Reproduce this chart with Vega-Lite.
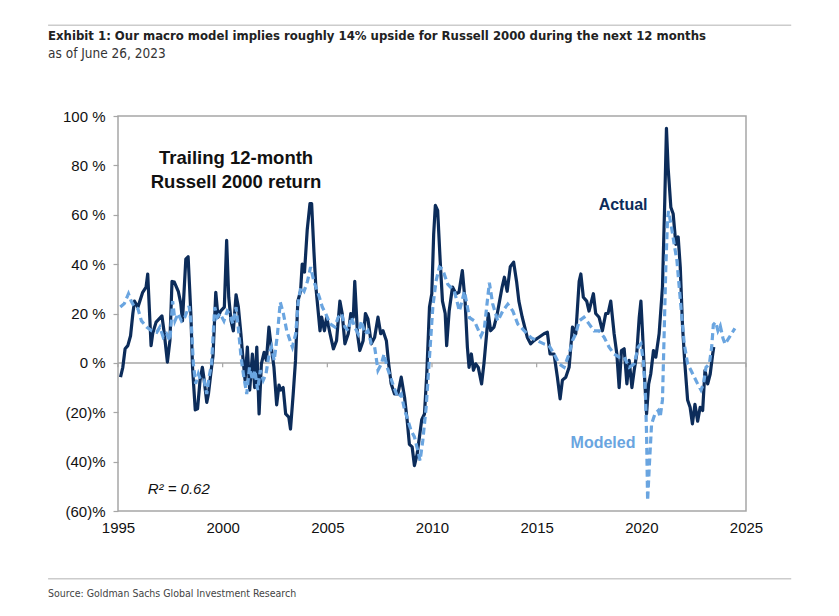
{
  "$schema": "https://vega.github.io/schema/vega-lite/v6.json",
  "width": 628,
  "height": 395,
  "padding": {"left": 47, "top": 24, "right": 10, "bottom": 5},
  "background": "white",
  "config": {
    "view": {"stroke": "#a6a6a6", "strokeWidth": 1.5},
    "font": "Liberation Sans"
  },
  "datasets": {
    "actual": [
      {"year": 1995.12, "value": -5.8}, {"year": 1995.23, "value": -1.8}, {"year": 1995.34, "value": 5.7}, {"year": 1995.47, "value": 7},
      {"year": 1995.6, "value": 11}, {"year": 1995.71, "value": 20}, {"year": 1995.79, "value": 25}, {"year": 1995.95, "value": 22.5},
      {"year": 1996.18, "value": 28.6}, {"year": 1996.34, "value": 30.7}, {"year": 1996.42, "value": 36}, {"year": 1996.58, "value": 7},
      {"year": 1996.66, "value": 12}, {"year": 1996.82, "value": 16.5}, {"year": 1997.1, "value": 19}, {"year": 1997.21, "value": 12},
      {"year": 1997.36, "value": 0.3}, {"year": 1997.48, "value": 9}, {"year": 1997.58, "value": 33}, {"year": 1997.69, "value": 32.7},
      {"year": 1997.88, "value": 29}, {"year": 1998.0, "value": 24}, {"year": 1998.08, "value": 17}, {"year": 1998.24, "value": 42},
      {"year": 1998.35, "value": 43}, {"year": 1998.48, "value": 20}, {"year": 1998.56, "value": -1.8}, {"year": 1998.69, "value": -19},
      {"year": 1998.8, "value": -18.6}, {"year": 1998.92, "value": -7}, {"year": 1999.03, "value": -1.8}, {"year": 1999.11, "value": -6.5},
      {"year": 1999.24, "value": -16}, {"year": 1999.32, "value": -12.6}, {"year": 1999.43, "value": -4.5}, {"year": 1999.54, "value": 3},
      {"year": 1999.67, "value": 28.6}, {"year": 1999.78, "value": 18.5}, {"year": 1999.9, "value": 21}, {"year": 2000.08, "value": 22.6},
      {"year": 2000.19, "value": 49.6}, {"year": 2000.29, "value": 26.6}, {"year": 2000.4, "value": 17}, {"year": 2000.51, "value": 13},
      {"year": 2000.64, "value": 27.6}, {"year": 2000.75, "value": 22.6}, {"year": 2000.87, "value": 11.8}, {"year": 2000.95, "value": 3.6},
      {"year": 2001.07, "value": -7}, {"year": 2001.18, "value": 6.4}, {"year": 2001.29, "value": -11}, {"year": 2001.42, "value": 3.6},
      {"year": 2001.53, "value": -10}, {"year": 2001.63, "value": 6.4}, {"year": 2001.74, "value": -20.7}, {"year": 2001.85, "value": -0.4},
      {"year": 2001.98, "value": 4.3}, {"year": 2002.09, "value": 1}, {"year": 2002.21, "value": 14.5}, {"year": 2002.32, "value": 6.4},
      {"year": 2002.45, "value": -1.8}, {"year": 2002.58, "value": -17}, {"year": 2002.69, "value": -9}, {"year": 2002.77, "value": -11},
      {"year": 2002.89, "value": -10}, {"year": 2003.01, "value": -20.7}, {"year": 2003.16, "value": -22}, {"year": 2003.24, "value": -26.8},
      {"year": 2003.37, "value": -12.6}, {"year": 2003.48, "value": 1}, {"year": 2003.59, "value": 25}, {"year": 2003.72, "value": 29},
      {"year": 2003.8, "value": 40}, {"year": 2003.91, "value": 36.8}, {"year": 2004.04, "value": 54}, {"year": 2004.17, "value": 64.5},
      {"year": 2004.25, "value": 64.5}, {"year": 2004.36, "value": 45}, {"year": 2004.45, "value": 31}, {"year": 2004.65, "value": 13},
      {"year": 2004.73, "value": 18.5}, {"year": 2004.86, "value": 13}, {"year": 2004.97, "value": 18.5}, {"year": 2005.13, "value": 11.8},
      {"year": 2005.29, "value": 5.7}, {"year": 2005.44, "value": 9}, {"year": 2005.6, "value": 25}, {"year": 2005.71, "value": 20},
      {"year": 2005.84, "value": 7.7}, {"year": 2006.0, "value": 11.8}, {"year": 2006.12, "value": 20}, {"year": 2006.24, "value": 18.5},
      {"year": 2006.31, "value": 33}, {"year": 2006.44, "value": 11.8}, {"year": 2006.55, "value": 5}, {"year": 2006.71, "value": 9},
      {"year": 2006.82, "value": 20}, {"year": 2006.94, "value": 17.8}, {"year": 2007.1, "value": 7.7}, {"year": 2007.26, "value": 10.4},
      {"year": 2007.42, "value": 18.5}, {"year": 2007.55, "value": 11.8}, {"year": 2007.66, "value": 13}, {"year": 2007.82, "value": 9},
      {"year": 2007.93, "value": -0.4}, {"year": 2008.05, "value": -8.5}, {"year": 2008.21, "value": -12.6}, {"year": 2008.37, "value": -12.6},
      {"year": 2008.53, "value": -5.8}, {"year": 2008.69, "value": -14}, {"year": 2008.81, "value": -23}, {"year": 2008.92, "value": -33},
      {"year": 2009.05, "value": -34}, {"year": 2009.16, "value": -41.6}, {"year": 2009.29, "value": -37}, {"year": 2009.4, "value": -30},
      {"year": 2009.51, "value": -23}, {"year": 2009.64, "value": -20.7}, {"year": 2009.75, "value": -4.5}, {"year": 2009.88, "value": 22.6},
      {"year": 2009.99, "value": 28}, {"year": 2010.08, "value": 52}, {"year": 2010.16, "value": 63.8}, {"year": 2010.27, "value": 61.8},
      {"year": 2010.39, "value": 41.5}, {"year": 2010.5, "value": 25}, {"year": 2010.63, "value": 20}, {"year": 2010.7, "value": 7},
      {"year": 2010.82, "value": 21}, {"year": 2010.98, "value": 30.7}, {"year": 2011.14, "value": 28}, {"year": 2011.29, "value": 28.6},
      {"year": 2011.45, "value": 37.4}, {"year": 2011.58, "value": 25}, {"year": 2011.69, "value": 6.4}, {"year": 2011.77, "value": -1.8},
      {"year": 2011.88, "value": 3.6}, {"year": 2011.98, "value": -3}, {"year": 2012.09, "value": -0.4}, {"year": 2012.21, "value": -1.8},
      {"year": 2012.37, "value": -8.5}, {"year": 2012.48, "value": -0.4}, {"year": 2012.61, "value": 11.8}, {"year": 2012.69, "value": 20},
      {"year": 2012.8, "value": 13}, {"year": 2012.96, "value": 14.5}, {"year": 2013.12, "value": 20}, {"year": 2013.35, "value": 30.7},
      {"year": 2013.46, "value": 34.7}, {"year": 2013.59, "value": 29}, {"year": 2013.74, "value": 39}, {"year": 2013.9, "value": 40.8},
      {"year": 2014.04, "value": 33}, {"year": 2014.15, "value": 25}, {"year": 2014.31, "value": 18.5}, {"year": 2014.55, "value": 10.4},
      {"year": 2014.71, "value": 7.7}, {"year": 2014.87, "value": 9}, {"year": 2015.11, "value": 10.4}, {"year": 2015.35, "value": 11.8},
      {"year": 2015.51, "value": 12.4}, {"year": 2015.64, "value": 3.6}, {"year": 2015.83, "value": 3.6}, {"year": 2015.99, "value": -5.8},
      {"year": 2016.12, "value": -14.6}, {"year": 2016.23, "value": -7}, {"year": 2016.39, "value": -5.8}, {"year": 2016.55, "value": -1.8},
      {"year": 2016.71, "value": 14.5}, {"year": 2016.87, "value": 11.8}, {"year": 2017.03, "value": 33}, {"year": 2017.11, "value": 36},
      {"year": 2017.23, "value": 26.6}, {"year": 2017.39, "value": 25}, {"year": 2017.5, "value": 21}, {"year": 2017.62, "value": 25},
      {"year": 2017.71, "value": 28}, {"year": 2017.82, "value": 20}, {"year": 2017.98, "value": 18.5}, {"year": 2018.14, "value": 13},
      {"year": 2018.3, "value": 20}, {"year": 2018.41, "value": 20}, {"year": 2018.54, "value": 25}, {"year": 2018.7, "value": 11.8},
      {"year": 2018.83, "value": 3.6}, {"year": 2018.94, "value": -10}, {"year": 2019.05, "value": 5}, {"year": 2019.18, "value": 5.7},
      {"year": 2019.31, "value": -8.5}, {"year": 2019.42, "value": 1}, {"year": 2019.55, "value": -10}, {"year": 2019.66, "value": -3},
      {"year": 2019.78, "value": 3.6}, {"year": 2019.9, "value": 18.5}, {"year": 2019.98, "value": 25}, {"year": 2020.06, "value": 11.8},
      {"year": 2020.17, "value": -8.5}, {"year": 2020.25, "value": -20.7}, {"year": 2020.35, "value": -8.5}, {"year": 2020.45, "value": -4.5},
      {"year": 2020.58, "value": 5}, {"year": 2020.69, "value": 2.3}, {"year": 2020.85, "value": 11.8}, {"year": 2021.01, "value": 30.7},
      {"year": 2021.12, "value": 65.8}, {"year": 2021.2, "value": 95}, {"year": 2021.28, "value": 79}, {"year": 2021.41, "value": 63},
      {"year": 2021.52, "value": 60.4}, {"year": 2021.65, "value": 48}, {"year": 2021.76, "value": 51}, {"year": 2021.86, "value": 38.8},
      {"year": 2021.97, "value": 14.5}, {"year": 2022.08, "value": -0.4}, {"year": 2022.21, "value": -15}, {"year": 2022.33, "value": -18},
      {"year": 2022.44, "value": -24.7}, {"year": 2022.56, "value": -16.8}, {"year": 2022.69, "value": -23.6}, {"year": 2022.81, "value": -18},
      {"year": 2022.93, "value": -19.3}, {"year": 2023.04, "value": -3}, {"year": 2023.17, "value": -8.5}, {"year": 2023.29, "value": -4.5},
      {"year": 2023.41, "value": 3.6}, {"year": 2023.46, "value": 6.4}
    ],
    "modeled": [
      {"year": 1995.11, "value": 22.6}, {"year": 1995.3, "value": 24}, {"year": 1995.5, "value": 28}, {"year": 1995.63, "value": 25},
      {"year": 1995.79, "value": 22.6}, {"year": 1995.95, "value": 22}, {"year": 1996.12, "value": 17}, {"year": 1996.37, "value": 14.5},
      {"year": 1996.61, "value": 13}, {"year": 1996.85, "value": 12.4}, {"year": 1997.0, "value": 14.5}, {"year": 1997.16, "value": 10.4},
      {"year": 1997.32, "value": 11.8}, {"year": 1997.48, "value": 9}, {"year": 1997.61, "value": 25}, {"year": 1997.72, "value": 17},
      {"year": 1997.87, "value": 20}, {"year": 1998.03, "value": 17}, {"year": 1998.19, "value": 18.5}, {"year": 1998.4, "value": 23},
      {"year": 1998.51, "value": 14.5}, {"year": 1998.6, "value": -0.4}, {"year": 1998.71, "value": -8.5}, {"year": 1998.84, "value": -4.5},
      {"year": 1998.95, "value": -7}, {"year": 1999.11, "value": -7}, {"year": 1999.24, "value": -12.6}, {"year": 1999.35, "value": -5.8},
      {"year": 1999.47, "value": -0.4}, {"year": 1999.62, "value": 22.6}, {"year": 1999.74, "value": 18.5}, {"year": 1999.87, "value": 20},
      {"year": 2000.06, "value": 17}, {"year": 2000.22, "value": 21}, {"year": 2000.33, "value": 20}, {"year": 2000.49, "value": 15.8},
      {"year": 2000.64, "value": 22.6}, {"year": 2000.76, "value": 13}, {"year": 2000.88, "value": 2.3}, {"year": 2001.01, "value": -5.8},
      {"year": 2001.15, "value": -12.6}, {"year": 2001.28, "value": -1.8}, {"year": 2001.43, "value": -7}, {"year": 2001.54, "value": -3},
      {"year": 2001.67, "value": -11}, {"year": 2001.8, "value": -3}, {"year": 2001.94, "value": -7}, {"year": 2002.07, "value": -4.5},
      {"year": 2002.22, "value": 3.6}, {"year": 2002.33, "value": 6.4}, {"year": 2002.46, "value": 1}, {"year": 2002.62, "value": 11.8},
      {"year": 2002.75, "value": 24.6}, {"year": 2002.9, "value": 20}, {"year": 2003.06, "value": 13}, {"year": 2003.22, "value": 9},
      {"year": 2003.33, "value": 6.4}, {"year": 2003.49, "value": 11.8}, {"year": 2003.6, "value": 24}, {"year": 2003.73, "value": 30.7},
      {"year": 2003.89, "value": 29}, {"year": 2004.05, "value": 33}, {"year": 2004.2, "value": 38.8}, {"year": 2004.36, "value": 33},
      {"year": 2004.52, "value": 29}, {"year": 2004.62, "value": 26.6}, {"year": 2004.76, "value": 22.6}, {"year": 2004.92, "value": 20},
      {"year": 2005.13, "value": 15.8}, {"year": 2005.36, "value": 14.5}, {"year": 2005.52, "value": 18.5}, {"year": 2005.68, "value": 20},
      {"year": 2005.84, "value": 14.5}, {"year": 2006.0, "value": 13}, {"year": 2006.15, "value": 18.5}, {"year": 2006.31, "value": 14.5},
      {"year": 2006.47, "value": 11.8}, {"year": 2006.63, "value": 17}, {"year": 2006.79, "value": 11.8}, {"year": 2006.94, "value": 13},
      {"year": 2007.1, "value": 7.7}, {"year": 2007.26, "value": 6.4}, {"year": 2007.42, "value": -3}, {"year": 2007.58, "value": -0.4},
      {"year": 2007.71, "value": 3.6}, {"year": 2007.86, "value": -1.8}, {"year": 2008.02, "value": -5.8}, {"year": 2008.18, "value": -9.9},
      {"year": 2008.37, "value": -14}, {"year": 2008.53, "value": -12.6}, {"year": 2008.69, "value": -19}, {"year": 2008.84, "value": -23},
      {"year": 2009.0, "value": -27.4}, {"year": 2009.16, "value": -30}, {"year": 2009.32, "value": -35.5}, {"year": 2009.43, "value": -39.6},
      {"year": 2009.56, "value": -31.5}, {"year": 2009.72, "value": -18}, {"year": 2009.88, "value": 2.3}, {"year": 2010.04, "value": 22.6},
      {"year": 2010.19, "value": 33}, {"year": 2010.35, "value": 38.8}, {"year": 2010.5, "value": 38}, {"year": 2010.75, "value": 31.9},
      {"year": 2011.07, "value": 29}, {"year": 2011.31, "value": 21}, {"year": 2011.55, "value": 29}, {"year": 2011.79, "value": 18.3},
      {"year": 2012.02, "value": 17}, {"year": 2012.34, "value": 10.9}, {"year": 2012.5, "value": 14}, {"year": 2012.74, "value": 32.5},
      {"year": 2012.9, "value": 23.9}, {"year": 2013.14, "value": 17}, {"year": 2013.38, "value": 21}, {"year": 2013.62, "value": 23.8},
      {"year": 2013.86, "value": 21}, {"year": 2014.1, "value": 15.7}, {"year": 2014.41, "value": 13}, {"year": 2014.73, "value": 10.2},
      {"year": 2015.05, "value": 8.9}, {"year": 2015.37, "value": 7.6}, {"year": 2015.59, "value": 7}, {"year": 2015.83, "value": 3.6},
      {"year": 2016.07, "value": -0.4}, {"year": 2016.31, "value": -1.8}, {"year": 2016.55, "value": 3.6}, {"year": 2016.71, "value": 9},
      {"year": 2016.87, "value": 11.8}, {"year": 2017.03, "value": 17}, {"year": 2017.26, "value": 18.5}, {"year": 2017.5, "value": 15.8},
      {"year": 2017.74, "value": 13}, {"year": 2017.98, "value": 13}, {"year": 2018.22, "value": 10.4}, {"year": 2018.46, "value": 6.4},
      {"year": 2018.7, "value": 3.6}, {"year": 2018.94, "value": 2.3}, {"year": 2019.18, "value": 2.3}, {"year": 2019.42, "value": -1.8},
      {"year": 2019.66, "value": -0.4}, {"year": 2019.85, "value": 6.4}, {"year": 2019.98, "value": 7.7}, {"year": 2020.09, "value": 1},
      {"year": 2020.19, "value": -11}, {"year": 2020.25, "value": -28.8}, {"year": 2020.3, "value": -55.8}, {"year": 2020.38, "value": -42},
      {"year": 2020.49, "value": -24.7}, {"year": 2020.65, "value": -20.7}, {"year": 2020.81, "value": -19.3}, {"year": 2020.9, "value": -22},
      {"year": 2021.01, "value": -15}, {"year": 2021.09, "value": 11.8}, {"year": 2021.17, "value": 38.8}, {"year": 2021.25, "value": 58},
      {"year": 2021.3, "value": 61.5}, {"year": 2021.44, "value": 55}, {"year": 2021.57, "value": 48}, {"year": 2021.7, "value": 41.5},
      {"year": 2021.81, "value": 30.7}, {"year": 2021.92, "value": 20}, {"year": 2022.05, "value": 7.7}, {"year": 2022.21, "value": -0.4},
      {"year": 2022.37, "value": -3}, {"year": 2022.53, "value": -5.8}, {"year": 2022.69, "value": -8.5}, {"year": 2022.85, "value": -11},
      {"year": 2022.97, "value": -8.5}, {"year": 2023.09, "value": -1.8}, {"year": 2023.25, "value": -0.4}, {"year": 2023.36, "value": 6.4},
      {"year": 2023.44, "value": 15.5}, {"year": 2023.55, "value": 16.5}, {"year": 2023.66, "value": 13}, {"year": 2023.77, "value": 15},
      {"year": 2023.9, "value": 10}, {"year": 2024.0, "value": 7.6}, {"year": 2024.2, "value": 10.3}, {"year": 2024.36, "value": 12.5},
      {"year": 2024.47, "value": 14}
    ],
    "ticks": [
      {"year": 1995}, {"year": 2000}, {"year": 2005}, {"year": 2010}, {"year": 2015}, {"year": 2020}, {"year": 2025}
    ]
  },
  "layer": [
    {
      "data": {"values": [{}]},
      "mark": {"type": "rule", "color": "#a6a6a6", "strokeWidth": 1.5},
      "encoding": {"y": {"datum": 0, "type": "quantitative"}}
    },
    {
      "data": {"name": "ticks"},
      "mark": {"type": "rule", "color": "#a6a6a6", "strokeWidth": 1.2},
      "encoding": {
        "x": {"field": "year", "type": "quantitative"},
        "y": {"datum": 0},
        "y2": {"datum": -1.8}
      }
    },
    {
      "data": {"name": "actual"},
      "mark": {"type": "line", "color": "#0c2c5a", "strokeWidth": 3.2, "strokeJoin": "round"},
      "encoding": {
        "x": {
          "field": "year", "type": "quantitative",
          "scale": {"domain": [1995, 2025], "nice": false, "zero": false},
          "axis": {
            "title": null, "values": [1995, 2000, 2005, 2010, 2015, 2020, 2025], "format": "d",
            "grid": false, "ticks": false, "domain": false, "labelFlush": false, "labelFontSize": 15, "labelColor": "#111111",
            "labelPadding": 9, "labelFont": "Liberation Sans"
          }
        },
        "y": {
          "field": "value", "type": "quantitative",
          "scale": {"domain": [-60, 100], "nice": false, "zero": false},
          "axis": {
            "title": null, "values": [-60, -40, -20, 0, 20, 40, 60, 80, 100],
            "labelExpr": "datum.value < 0 ? '(' + abs(datum.value) + ')%' : datum.value + ' %'",
            "grid": false, "domain": false, "labelFlush": false, "tickColor": "#a6a6a6", "tickSize": 5, "tickWidth": 1.2,
            "labelFontSize": 15, "labelColor": "#111111", "labelPadding": 8, "labelFont": "Liberation Sans"
          }
        }
      }
    },
    {
      "data": {"name": "modeled"},
      "mark": {"type": "line", "color": "#6aa5e0", "strokeWidth": 3.2, "strokeDash": [7, 4]},
      "encoding": {
        "x": {"field": "year", "type": "quantitative"},
        "y": {"field": "value", "type": "quantitative"}
      }
    },
    {
      "data": {"values": [{}]},
      "mark": {"type": "text", "text": ["Trailing 12-month", "Russell 2000 return"], "font": "Liberation Sans", "fontSize": 18.5, "fontWeight": "bold", "color": "#111111", "lineHeight": 24, "align": "center", "baseline": "middle"},
      "encoding": {"x": {"datum": 2000.64}, "y": {"datum": 83}}
    },
    {
      "data": {"values": [{}]},
      "mark": {"type": "text", "text": "Actual", "font": "Liberation Sans", "fontSize": 16, "fontWeight": "bold", "color": "#0c2c5a", "align": "center", "baseline": "middle"},
      "encoding": {"x": {"datum": 2019.13}, "y": {"datum": 64}}
    },
    {
      "data": {"values": [{}]},
      "mark": {"type": "text", "text": "Modeled", "font": "Liberation Sans", "fontSize": 16, "fontWeight": "bold", "color": "#6aa5e0", "align": "center", "baseline": "middle"},
      "encoding": {"x": {"datum": 2018.17}, "y": {"datum": -32.4}}
    },
    {
      "data": {"values": [{}]},
      "mark": {"type": "text", "text": "R² = 0.62", "font": "Liberation Sans", "fontSize": 15, "fontStyle": "italic", "color": "#111111", "align": "center", "baseline": "middle"},
      "encoding": {"x": {"datum": 1997.9}, "y": {"datum": -51}}
    },
    {
      "data": {"values": [{}]},
      "mark": {"type": "rule", "color": "#cccccc", "strokeWidth": 1.5},
      "encoding": {"x": {"datum": 1991.66}, "x2": {"datum": 2027.16}, "y": {"datum": 136.8}}
    },
    {
      "data": {"values": [{}]},
      "mark": {"type": "text", "text": "Exhibit 1: Our macro model implies roughly 14% upside for Russell 2000 during the next 12 months", "font": "'DejaVu Sans Condensed', 'Liberation Sans Narrow', sans-serif", "fontSize": 13, "fontWeight": "bold", "color": "#222222", "align": "left", "baseline": "middle"},
      "encoding": {"x": {"datum": 1991.66}, "y": {"datum": 132.4}}
    },
    {
      "data": {"values": [{}]},
      "mark": {"type": "text", "text": "as of June 26, 2023", "font": "'DejaVu Sans Condensed', 'Liberation Sans Narrow', sans-serif", "fontSize": 13.5, "color": "#333333", "align": "left", "baseline": "middle"},
      "encoding": {"x": {"datum": 1991.66}, "y": {"datum": 125.1}}
    },
    {
      "data": {"values": [{}]},
      "mark": {"type": "rule", "color": "#cccccc", "strokeWidth": 1.5},
      "encoding": {"x": {"datum": 1991.66}, "x2": {"datum": 2027.16}, "y": {"datum": -87.4}}
    },
    {
      "data": {"values": [{}]},
      "mark": {"type": "text", "text": "Source: Goldman Sachs Global Investment Research", "font": "'DejaVu Sans Condensed', 'Liberation Sans Narrow', sans-serif", "fontSize": 10.5, "color": "#444444", "align": "left", "baseline": "middle"},
      "encoding": {"x": {"datum": 1991.66}, "y": {"datum": -93.5}}
    }
  ]
}
